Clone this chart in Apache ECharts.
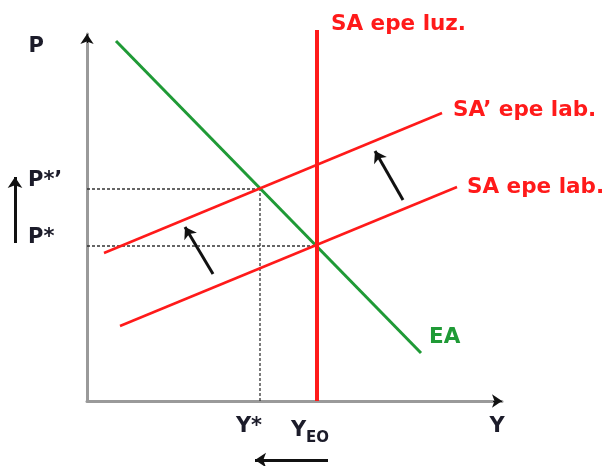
<!DOCTYPE html>
<html><head><meta charset="utf-8">
<script src="https://cdn.jsdelivr.net/npm/echarts@6/dist/echarts.min.js"></script>
<style>html,body{margin:0;padding:0;background:#fff}#c{width:608px;height:466px}</style>
</head><body><div id="c"></div>
<script>
// Diagram units (abstract output Y on x, price P on y)
const xRange = [0, 415];
const yRange = [0, 367];
const eaCurve = [[29, 360], [334, 48]];
const saLuz = [[230, 0], [230, 371]];
const saLab = [[33, 75], [370, 214]];
const saLabShift = [[17, 148], [355, 288]];
const yStar = 173, yEO = 230, pStar = 155, pStarShift = 212;
const xTicks = [yStar, yEO];
const yTicks = [pStar, pStarShift];
const yTickLabels = ['P*', 'P*’'];
const shiftArrows = [[[126, 127], [98, 174]], [[316, 201], [288, 250]]];
const priceArrow = [[-72, 158], [-72, 224]];
const outputArrow = [[241, -59], [168, -59]];
const axisHeads = [[[0, 358], [0, 367]], [[406, 0], [415, 0]]];
const seriesNames = ['EA', 'SA epe luz.', 'SA epe lab.', 'SA’ epe lab.'];

const FONT = '"DejaVu Sans"';
const RED = '#ff1a1a';
const GREEN = '#1f9a36';
const TXT = '#1c1c2a';
const AX = 21;

const chart = echarts.init(document.getElementById('c'), null, {renderer: 'canvas'});

function endLbl(text, color, offset) {
  return {show: true, formatter: text, color: color, fontFamily: FONT, fontWeight: 'bold',
    fontSize: 21.5, distance: 0, offset: offset};
}

const option = {
  animation: false,
  backgroundColor: '#fff',
  grid: {left: 87, right: 106, top: 34, bottom: 65, containLabel: false},
  xAxis: {
    type: 'value', min: xRange[0], max: xRange[1],
    name: 'Y', nameLocation: 'end', nameGap: -5,
    nameTextStyle: {color: TXT, fontFamily: FONT, fontSize: AX, fontWeight: 'bold', align: 'center', verticalAlign: 'top', lineHeight: 52},
    axisLine: {show: true, onZero: false, lineStyle: {color: '#9a9a9a', width: 3}},
    axisTick: {show: false}, splitLine: {show: false},
    axisLabel: {
      show: true, customValues: xTicks, margin: 15, color: TXT, fontFamily: FONT, fontSize: AX,
      formatter: v => v === yStar ? '{a|Y*}' : '{b|Y}{s|EO}',
      rich: {
        a: {fontFamily: FONT, fontSize: AX, fontWeight: 'bold', color: TXT, padding: [0, 22, 0, 0]},
        b: {fontFamily: FONT, fontSize: AX, fontWeight: 'bold', color: TXT},
        s: {fontFamily: FONT, fontSize: 15, fontWeight: 'bold', color: TXT, padding: [15, 14, 0, 0]}
      }
    }
  },
  yAxis: {
    type: 'value', min: yRange[0], max: yRange[1],
    name: 'P', nameLocation: 'end', nameGap: -23,
    nameTextStyle: {color: TXT, fontFamily: FONT, fontSize: AX, fontWeight: 'bold', align: 'right', padding: [0, 43, 0, 0]},
    axisLine: {show: true, onZero: false, lineStyle: {color: '#9a9a9a', width: 3}},
    axisTick: {show: false}, splitLine: {show: false},
    axisLabel: {
      show: true, customValues: yTicks, margin: 59, align: 'left', verticalAlign: 'bottom', lineHeight: 16,
      color: TXT, fontFamily: FONT, fontSize: AX, fontWeight: 'bold',
      formatter: v => yTickLabels[yTicks.indexOf(v)]
    }
  },
  series: [
    {type: 'line', data: [[0, pStar], [yEO, pStar]], showSymbol: false, silent: true,
      lineStyle: {color: '#333', width: 1.3, type: [3, 2]}},
    {type: 'line', data: [[0, pStarShift], [yStar, pStarShift]], showSymbol: false, silent: true,
      lineStyle: {color: '#333', width: 1.3, type: [3, 2]}},
    {type: 'line', data: [[yStar, 0], [yStar, pStarShift]], showSymbol: false, silent: true,
      lineStyle: {color: '#333', width: 1.3, type: [3, 2]}},
    {name: seriesNames[0], type: 'line', data: eaCurve, showSymbol: false, clip: false,
      lineStyle: {color: GREEN, width: 3}, endLabel: endLbl(seriesNames[0], GREEN, [8, -16])},
    {name: seriesNames[2], type: 'line', data: saLab, showSymbol: false, clip: false,
      lineStyle: {color: RED, width: 2.5}, endLabel: endLbl(seriesNames[2], RED, [10, 0])},
    {name: seriesNames[3], type: 'line', data: saLabShift, showSymbol: false, clip: false,
      lineStyle: {color: RED, width: 2.5}, endLabel: endLbl(seriesNames[3], RED, [11, -3])},
    {name: seriesNames[1], type: 'line', data: saLuz, showSymbol: false, clip: false,
      lineStyle: {color: RED, width: 4}, endLabel: endLbl(seriesNames[1], RED, [14, -6])},
    {type: 'lines', coordinateSystem: 'cartesian2d', clip: false, silent: true,
      symbol: ['none', 'arrow'], symbolSize: 11,
      lineStyle: {color: '#111', width: 3, opacity: 1},
      data: shiftArrows.concat([priceArrow, outputArrow]).map(c => ({coords: c}))},
    {type: 'lines', coordinateSystem: 'cartesian2d', clip: false, silent: true,
      symbol: ['none', 'arrow'], symbolSize: 10,
      lineStyle: {color: '#111', width: 1, opacity: 1},
      data: axisHeads.map(c => ({coords: c}))}
  ]
};
chart.setOption(option);
</script></body></html>
